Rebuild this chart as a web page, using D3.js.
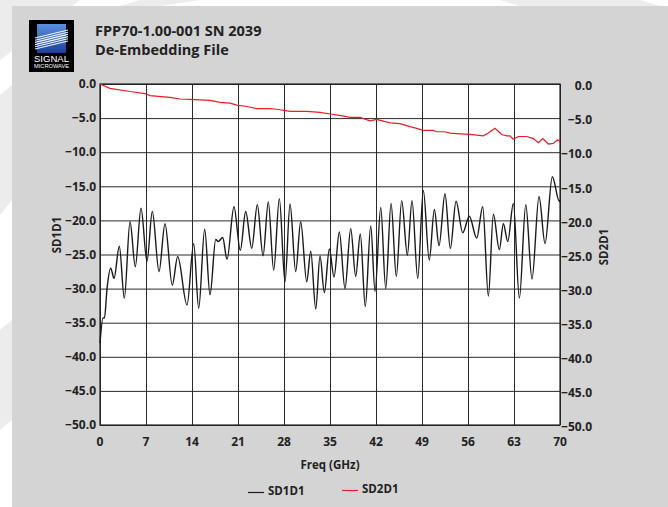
<!DOCTYPE html>
<html>
<head>
<meta charset="utf-8">
<script src="https://cdn.jsdelivr.net/npm/d3@7"></script>
<style>
  body { margin: 0; background: #fff; }
  svg { display: block; font-family: 'Open Sans', sans-serif; }
</style>
</head>
<body>
<script>
// SD1D1 (black): freq GHz / dB
const sd1d1Freq = [0, 0.46, 0.68, 1.07, 1.63, 2.13, 2.94, 3.70, 4.57, 5.37, 6.24, 7.15, 7.96, 8.98, 9.89, 11.0, 11.82, 13.24, 14.26, 15.02, 15.93, 16.74, 17.61, 18.0, 18.67, 19.33, 20.39, 21.35, 22.17, 23.09, 23.94, 24.81, 25.61, 26.43, 27.29, 28.15, 28.92, 29.78, 30.54, 31.46, 32.07, 32.83, 33.48, 34.14, 34.90, 35.61, 36.42, 37.28, 38.15, 38.91, 39.61, 40.37, 41.20, 41.85, 42.72, 43.48, 44.29, 45.09, 45.91, 46.77, 47.48, 48.35, 49.20, 50.11, 50.88, 51.59, 52.50, 53.31, 54.18, 55.20, 56.20, 57.33, 58.24, 59.10, 59.86, 60.77, 61.38, 62.05, 62.90, 63.82, 64.79, 65.74, 66.81, 67.72, 68.83, 69.9, 70];
const sd1d1Val = [-38, -34.3, -34.3, -30, -27, -28.5, -23.8, -31.4, -20.2, -26.8, -18.2, -26, -18.7, -27.5, -20.5, -29.5, -25.3, -32.4, -23.4, -32.9, -21.3, -30.9, -22.8, -23.1, -22.5, -25.7, -18, -24.4, -18.7, -24.1, -17.7, -25.2, -17.3, -27.3, -16.8, -29, -17.6, -27.5, -20.2, -29, -24.5, -33, -25.2, -30.6, -24.2, -28.3, -21.7, -30, -21.2, -28.2, -22, -32.6, -20.8, -30.4, -18.1, -30, -17.5, -28.2, -17.1, -25.1, -17.1, -28.5, -15.6, -25.8, -18.4, -23.7, -16.1, -24.1, -17.2, -21.8, -19.4, -22.6, -18, -31.1, -19.1, -24.3, -20.5, -23.1, -17.5, -31.4, -17.7, -28.6, -16.5, -23.4, -13.6, -17.2, -17];

// SD2D1 (red)
const sd2d1Freq = [0, 1.52, 4.57, 6.85, 7.61, 10.65, 12.17, 13.7, 16.74, 18.26, 19.78, 20.8, 22.33, 23.85, 25.87, 26.89, 28.92, 31.46, 33.48, 35.0, 36.52, 38.04, 39.57, 41.09, 42.1, 44.13, 45.65, 47.18, 48.2, 49.2, 50.72, 51.24, 52.5, 53.26, 54.79, 56.31, 58.33, 59.09, 60.11, 61.13, 61.89, 62.39, 62.9, 63.66, 64.94, 65.94, 66.7, 67.37, 68.22, 68.98, 69.59, 70];
const sd2d1Val = [0, -0.63, -1.1, -1.4, -1.7, -1.95, -2.2, -2.25, -2.4, -2.7, -2.8, -3.1, -3.3, -3.6, -3.6, -3.7, -4.0, -4.0, -4.15, -4.4, -4.6, -4.9, -4.9, -5.4, -5.2, -5.7, -5.8, -6.25, -6.5, -6.8, -6.8, -7.0, -7.0, -7.2, -7.3, -7.4, -7.6, -7.2, -6.5, -7.4, -7.6, -7.6, -8.1, -7.7, -7.7, -8.0, -8.6, -8.0, -8.8, -8.7, -8.2, -8.3];

const xTicks = [0, 7, 14, 21, 28, 35, 42, 49, 56, 63, 70];
const yTicks = [0, -5, -10, -15, -20, -25, -30, -35, -40, -45, -50];

const titleLines = ['FPP70-1.00-001 SN 2039', 'De-Embedding File'];
const seriesNames = ['SD1D1', 'SD2D1'];

const W = 668, H = 507;
const plot = { left: 100, right: 560, top: 84, bottom: 425 };

const svg = d3.select('body').append('svg')
    .attr('width', W)
    .attr('height', H);

// BACKGROUND (white page with faint diagonal bands, grey panel)

svg.append('rect').attr('width', W).attr('height', H).attr('fill', '#ffffff');
const bands = [
    [[0, 0], [80, 0], [0, 60]],
    [[140, 0], [200, 0], [160, 6], [120, 6]],
    [[0, 95], [12, 85], [12, 200], [0, 215]],
    [[0, 330], [12, 320], [12, 420], [0, 430]],
    [[500, 0], [640, 0], [660, 6], [520, 6]]
];
svg.selectAll('polygon.band')
    .data(bands)
    .enter()
    .append('polygon')
    .attr('class', 'band')
    .attr('points', d => d.map(p => p.join(',')).join(' '))
    .attr('fill', '#ececec');

svg.append('rect')
    .attr('x', 12).attr('y', 6)
    .attr('width', W - 12).attr('height', H - 6)
    .attr('fill', '#d4d4d4');

// LOGO

const logo = svg.append('g').attr('transform', 'translate(29,20)');
logo.append('rect').attr('width', 45).attr('height', 52).attr('fill', '#000');
const grad = svg.append('defs').append('linearGradient')
    .attr('id', 'lg').attr('x1', 0).attr('y1', 0).attr('x2', 0).attr('y2', 1);
grad.append('stop').attr('offset', 0).attr('stop-color', '#5a90e0');
grad.append('stop').attr('offset', 1).attr('stop-color', '#1d3f9a');
logo.append('rect').attr('x', 8).attr('y', 4).attr('width', 29).attr('height', 29).attr('fill', 'url(#lg)');
[0, 1, 2, 3, 4, 5].forEach(function(i) {
    logo.append('line')
        .attr('x1', 6).attr('y1', 18 + i * 2.2)
        .attr('x2', 39).attr('y2', 10 + i * 2.2)
        .attr('stroke', '#eef4ff').attr('stroke-width', 1.1);
});
logo.append('text').text('SIGNAL')
    .attr('x', 22.5).attr('y', 41.5)
    .attr('text-anchor', 'middle').attr('fill', '#fff')
    .attr('font-family', 'Liberation Sans, Arial, sans-serif')
    .attr('font-size', '8.5px')
    .attr('textLength', 35).attr('lengthAdjust', 'spacingAndGlyphs');
logo.append('text').text('MICROWAVE')
    .attr('x', 22.5).attr('y', 47.5)
    .attr('text-anchor', 'middle').attr('fill', '#fff')
    .attr('font-family', 'Liberation Sans, Arial, sans-serif')
    .attr('font-size', '4.5px')
    .attr('textLength', 35).attr('lengthAdjust', 'spacingAndGlyphs');

// TITLE

svg.selectAll('text.title')
    .data(titleLines)
    .enter()
    .append('text')
    .attr('class', 'title')
    .text(d => d)
    .attr('x', 95)
    .attr('y', (d, i) => 36 + i * 18.5)
    .attr('font-size', '14.5px')
    .attr('font-weight', 700)
    .attr('fill', '#222');

// SCALES

const xScale = d3.scaleLinear().domain([0, 70]).range([plot.left, plot.right]);
const yScale = d3.scaleLinear().domain([-50, 0]).range([plot.bottom, plot.top]);

svg.append('rect')
    .attr('x', plot.left).attr('y', plot.top)
    .attr('width', plot.right - plot.left)
    .attr('height', plot.bottom - plot.top)
    .attr('fill', '#fff');

// GRID

svg.append('g')
    .attr('transform', 'translate(0,' + plot.bottom + ')')
    .call(d3.axisBottom(xScale).tickValues(xTicks).tickSize(-(plot.bottom - plot.top)).tickFormat(''))
    .call(g => g.select('.domain').remove())
    .selectAll('line').attr('stroke', '#2a2a2a');

svg.append('g')
    .attr('transform', 'translate(' + plot.left + ',0)')
    .call(d3.axisLeft(yScale).tickValues(yTicks).tickSize(-(plot.right - plot.left)).tickFormat(''))
    .call(g => g.select('.domain').remove())
    .selectAll('line').attr('stroke', '#2a2a2a');

svg.append('rect')
    .attr('x', plot.left).attr('y', plot.top)
    .attr('width', plot.right - plot.left)
    .attr('height', plot.bottom - plot.top)
    .attr('fill', 'none')
    .attr('stroke', '#222')
    .attr('stroke-width', 1.2);

// LINES

const sd1d1 = sd1d1Freq.map((f, i) => ({ f: f, v: sd1d1Val[i] }));
const sd2d1 = sd2d1Freq.map((f, i) => ({ f: f, v: sd2d1Val[i] }));

svg.append('path')
    .datum(sd1d1)
    .attr('d', d3.line().x(d => xScale(d.f)).y(d => yScale(d.v)).curve(d3.curveMonotoneX))
    .attr('fill', 'none')
    .attr('stroke', '#1a1a1a')
    .attr('stroke-width', 1.4);

svg.append('path')
    .datum(sd2d1)
    .attr('d', d3.line().x(d => xScale(d.f)).y(d => yScale(d.v)))
    .attr('fill', 'none')
    .attr('stroke', '#ee1c25')
    .attr('stroke-width', 1.2);

// AXIS LABELS

const fmt = d3.format('.1f');
const labelStyle = sel => sel
    .attr('font-size', '12px')
    .attr('font-weight', 700)
    .attr('fill', '#222');

svg.selectAll('text.yl')
    .data(yTicks)
    .enter()
    .append('text')
    .attr('class', 'yl')
    .text(d => fmt(d))
    .attr('x', 96)
    .attr('y', d => yScale(d))
    .attr('dy', '0.35em')
    .attr('text-anchor', 'end')
    .call(labelStyle);

svg.selectAll('text.yr')
    .data(yTicks)
    .enter()
    .append('text')
    .attr('class', 'yr')
    .text(d => fmt(d))
    .attr('x', 592)
    .attr('y', d => yScale(d) + 2)
    .attr('dy', '0.35em')
    .attr('text-anchor', 'end')
    .call(labelStyle);

svg.selectAll('text.xl')
    .data(xTicks)
    .enter()
    .append('text')
    .attr('class', 'xl')
    .text(d => d)
    .attr('x', d => xScale(d))
    .attr('y', 442)
    .attr('dy', '0.35em')
    .attr('text-anchor', 'middle')
    .call(labelStyle);

svg.append('text')
    .text('Freq (GHz)')
    .attr('x', 330).attr('y', 465).attr('dy', '0.35em')
    .attr('text-anchor', 'middle')
    .attr('font-size', '11.5px').attr('font-weight', 700).attr('fill', '#222');

svg.append('text')
    .text(seriesNames[0])
    .attr('transform', 'translate(57,235) rotate(-90)')
    .attr('dy', '0.35em')
    .attr('text-anchor', 'middle')
    .attr('font-size', '11.5px').attr('font-weight', 700).attr('fill', '#222');

svg.append('text')
    .text(seriesNames[1])
    .attr('transform', 'translate(604,247) rotate(-90)')
    .attr('dy', '0.35em')
    .attr('text-anchor', 'middle')
    .attr('font-size', '11.5px').attr('font-weight', 700).attr('fill', '#222');

// LEGEND

const legend = [
    { name: seriesNames[0], color: '#1a1a1a', x: 248, y: 491 },
    { name: seriesNames[1], color: '#ee1c25', x: 342, y: 489 }
];
legend.forEach(function(d) {
    svg.append('line')
        .attr('x1', d.x).attr('x2', d.x + 16)
        .attr('y1', d.y + 1.5).attr('y2', d.y + 1.5)
        .attr('stroke', d.color).attr('stroke-width', 1.2);
    svg.append('text')
        .text(d.name)
        .attr('x', d.x + 20).attr('y', d.y).attr('dy', '0.35em')
        .attr('font-size', '11.5px').attr('font-weight', 700).attr('fill', '#222');
});
</script>
</body>
</html>
